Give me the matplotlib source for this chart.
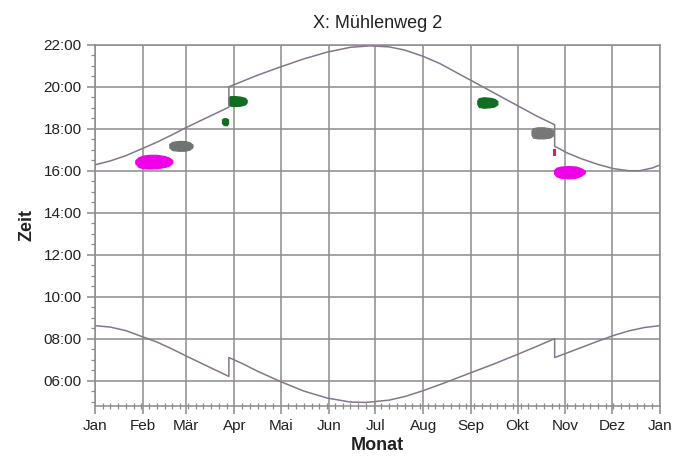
import matplotlib
matplotlib.use("Agg")
import matplotlib.pyplot as plt
from matplotlib.ticker import MultipleLocator, FuncFormatter

plt.rcParams['font.family'] = ['Liberation Sans', 'DejaVu Sans']

# day of year (0 = 1 Jan), values in hours
sunset_days = [0, 10, 20, 31, 40, 50, 59, 70, 80, 86.5, 86.5, 95, 105, 120, 135, 150, 165, 178, 190,
               200, 212, 223, 233, 243, 255, 265, 275, 285, 297, 297, 305, 315, 325, 335, 345, 352,
               360, 365]
sunset_hours = [16.28, 16.47, 16.72, 17.07, 17.36, 17.72, 18.06, 18.45, 18.8, 19.03, 20.0, 20.25,
                20.55, 20.95, 21.33, 21.65, 21.88, 21.95, 21.9, 21.75, 21.45, 21.1, 20.7, 20.3,
                19.82, 19.42, 19.02, 18.62, 18.19, 17.17, 16.85, 16.55, 16.3, 16.1, 16.0, 16.0,
                16.13, 16.27]

sunrise_days = [0, 10, 20, 31, 40, 50, 59, 70, 80, 86.5, 86.5, 95, 105, 120, 135, 150, 165, 175,
                190, 200, 212, 225, 243, 258, 273, 285, 297, 297, 305, 315, 325, 335, 345, 355, 365]
sunrise_hours = [8.62, 8.55, 8.38, 8.08, 7.84, 7.5, 7.17, 6.78, 6.43, 6.2, 7.1, 6.82, 6.45, 5.95,
                 5.5, 5.17, 4.98, 4.96, 5.07, 5.24, 5.52, 5.87, 6.38, 6.8, 7.25, 7.62, 8.0, 7.1,
                 7.32, 7.6, 7.88, 8.15, 8.37, 8.53, 8.62]

# shadow periods: days, start time, end time
feb_days = [26, 28, 31, 35, 40, 45, 48, 50]
feb_lo = [16.35, 16.18, 16.12, 16.1, 16.12, 16.18, 16.25, 16.38]
feb_hi = [16.5, 16.64, 16.72, 16.76, 16.76, 16.7, 16.62, 16.5]

mar_days = [48, 50, 54, 58, 61, 63]
mar_lo = [17.1, 16.98, 16.95, 16.95, 17.0, 17.12]
mar_hi = [17.28, 17.38, 17.42, 17.42, 17.36, 17.25]

apr1_days = [82, 83, 85, 86]
apr1_lo = [18.28, 18.18, 18.16, 18.25]
apr1_hi = [18.45, 18.5, 18.5, 18.44]

apr2_days = [86, 87, 90, 94, 97, 98]
apr2_lo = [19.2, 19.1, 19.08, 19.1, 19.16, 19.26]
apr2_hi = [19.48, 19.55, 19.56, 19.53, 19.47, 19.38]

sep_days = [247, 248, 251, 255, 258, 260]
sep_lo = [19.18, 19.04, 19.0, 19.02, 19.06, 19.16]
sep_hi = [19.36, 19.46, 19.5, 19.48, 19.43, 19.33]

okt_days = [282, 283, 286, 290, 294, 296]
okt_lo = [17.72, 17.58, 17.54, 17.54, 17.58, 17.68]
okt_hi = [17.92, 18.03, 18.07, 18.07, 18.02, 17.92]

red_days = [296, 297.5]
red_lo = [16.76, 16.76]
red_hi = [17.05, 17.05]

nov_days = [296.5, 298, 301, 306, 311, 314, 316.5]
nov_lo = [15.88, 15.74, 15.66, 15.64, 15.67, 15.76, 15.9]
nov_hi = [16.02, 16.14, 16.2, 16.22, 16.2, 16.12, 16.0]

month_days = [0, 31, 59, 90, 120, 151, 181, 212, 243, 273, 304, 334, 365]
month_labels = ['Jan', 'Feb', 'Mär', 'Apr', 'Mai', 'Jun', 'Jul', 'Aug', 'Sep', 'Okt', 'Nov', 'Dez', 'Jan']

fig = plt.figure(figsize=(6.91, 4.57), dpi=100)
ax = fig.add_axes([0.1375, 0.112, 0.8175, 0.79])

grid_col = '#8c8c8c'
ax.grid(True, color=grid_col, linewidth=1.1)
ax.set_axisbelow(True)

line_col = '#85768c'
ax.plot(sunset_days, sunset_hours, color=line_col, linewidth=1.1)
ax.plot(sunrise_days, sunrise_hours, color=line_col, linewidth=1.1)

blobs = [
    (feb_days, feb_lo, feb_hi, '#f000e8'),
    (mar_days, mar_lo, mar_hi, '#6e7470'),
    (apr1_days, apr1_lo, apr1_hi, '#136b28'),
    (apr2_days, apr2_lo, apr2_hi, '#0f6e22'),
    (sep_days, sep_lo, sep_hi, '#0f6e22'),
    (okt_days, okt_lo, okt_hi, '#777777'),
    (red_days, red_lo, red_hi, '#e0205a'),
    (nov_days, nov_lo, nov_hi, '#f000e8'),
]
for d, lo, hi, c in blobs:
    ax.fill_between(d, lo, hi, color=c, linewidth=0.8, edgecolor=c)

ax.set_xlim(0, 365)
ax.set_ylim(4.8, 22)
ax.set_xticks(month_days)
ax.set_xticklabels(month_labels)
ax.xaxis.set_minor_locator(MultipleLocator(5))
ax.set_yticks([6, 8, 10, 12, 14, 16, 18, 20, 22])
ax.yaxis.set_major_formatter(FuncFormatter(lambda v, p: '%02d:00' % int(round(v))))
ax.yaxis.set_minor_locator(MultipleLocator(0.5))

ax.tick_params(axis='both', which='major', labelsize=11, color=grid_col, length=6, width=1.1,
               labelcolor='#222222')
ax.tick_params(axis='y', which='minor', color=grid_col, length=3, width=0.9)
ax.tick_params(axis='x', which='minor', color=grid_col, length=4, width=0.9, direction='inout')
for s in ax.spines.values():
    s.set_color(grid_col)
    s.set_linewidth(1.1)

ax.set_title('X: Mühlenweg 2', fontsize=13, color='#222222', pad=12)
ax.set_xlabel('Monat', fontsize=13, fontweight='bold', color='#222222', labelpad=3)
ax.set_ylabel('Zeit', fontsize=13, fontweight='bold', color='#222222', labelpad=6)

fig.savefig('out.png', dpi=100)
